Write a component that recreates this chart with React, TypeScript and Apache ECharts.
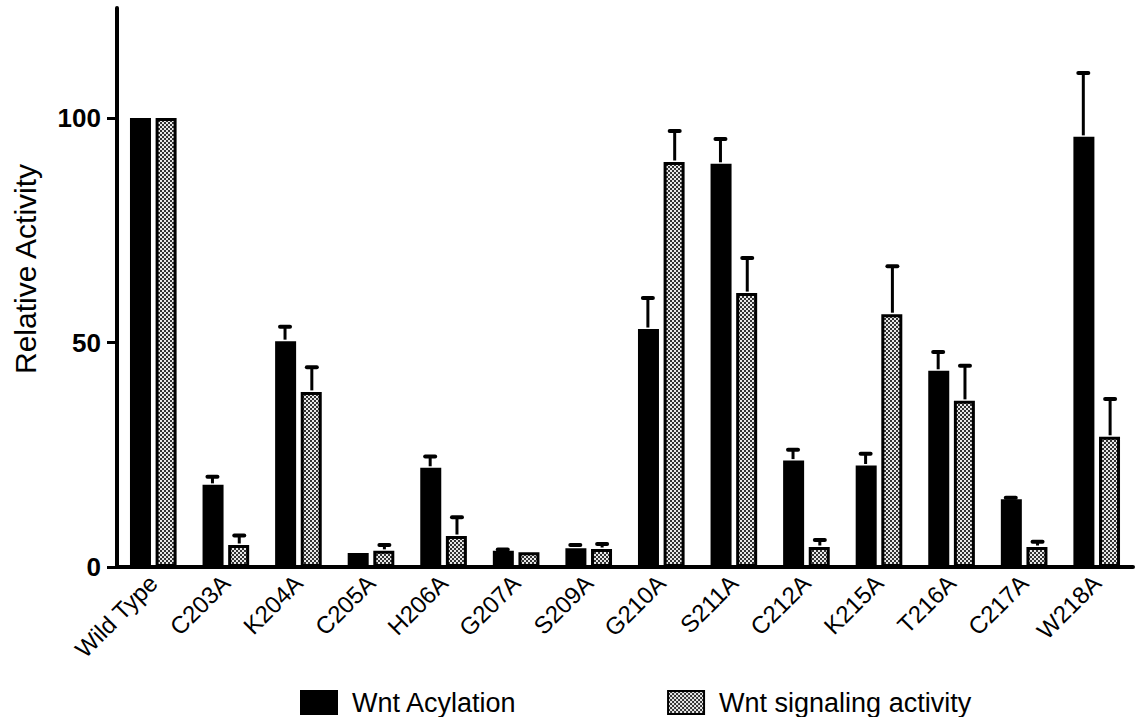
import React, { useEffect, useRef } from "react";
import * as echarts from "echarts";

const categories = ["Wild Type", "C203A", "K204A", "C205A", "H206A", "G207A", "S209A", "G210A", "S211A", "C212A", "K215A", "T216A", "C217A", "W218A"];
const acylation = [100, 18.3, 50.3, 3.1, 22.1, 3.6, 4.2, 53.0, 89.8, 23.7, 22.6, 43.7, 15.1, 95.8];
const acylationErr = [0, 1.8, 3.2, 0, 2.5, 0.3, 0.7, 6.9, 5.5, 2.4, 2.6, 4.2, 0.3, 14.2];
const signaling = [100, 4.9, 39.0, 3.6, 6.9, 3.3, 4.0, 90.2, 61.0, 4.45, 56.3, 37.0, 4.45, 29.0];
const signalingErr = [0, 2.1, 5.5, 1.3, 4.2, 0, 1.1, 6.9, 7.8, 1.55, 10.7, 7.8, 1.15, 8.4];
const seriesNames = ["Wnt Acylation", "Wnt signaling activity"];
const yTicks = [0, 50, 100];

const FONT = "'Liberation Sans', Arial, Helvetica, sans-serif";
const BAR_W = 21;
const BAR_OFFSET = 13.4;

function makePattern(): HTMLCanvasElement {
  const c = document.createElement("canvas");
  c.width = 4;
  c.height = 4;
  const ctx = c.getContext("2d")!;
  ctx.fillStyle = "#333333";
  ctx.fillRect(0, 0, 4, 4);
  ctx.fillStyle = "#e8e8e8";
  ctx.fillRect(0, 0, 2, 2);
  ctx.fillRect(2, 2, 2, 2);
  return c;
}

function errorSeries(name: string, values: number[], errs: number[], side: number) {
  return {
    type: "custom",
    name: name + " error",
    silent: true,
    z: 5,
    encode: { x: 0, y: [1, 2] },
    data: values.map((v, i) => [i, v, v + errs[i]]),
    renderItem: (params: any, api: any) => {
      const i = api.value(0);
      const lo = api.coord([i, api.value(1)]);
      const hi = api.coord([i, api.value(2)]);
      if (lo[1] - hi[1] < 0.5) return null;
      const x = lo[0] + side * BAR_OFFSET;
      const y0 = lo[1] - 1.5;
      return {
        type: "group",
        children: [
          { type: "line", shape: { x1: x, y1: y0, x2: x, y2: hi[1] }, style: { stroke: "#000", lineWidth: 3 } },
          { type: "line", shape: { x1: x - 5, y1: hi[1], x2: x + 5, y2: hi[1] }, style: { stroke: "#000", lineWidth: 4, lineCap: "round" } },
        ],
      };
    },
  };
}

export default function App() {
  const ref = useRef<HTMLDivElement>(null);
  useEffect(() => {
    if (!ref.current) return;
    const chart = echarts.init(ref.current, undefined, { renderer: "svg" });
    const pattern = makePattern();
    chart.setOption({
      animation: false,
      backgroundColor: "#fff",
      textStyle: { fontFamily: FONT },
      grid: { left: 117, right: 5, top: 8, bottom: 150, containLabel: false },
      legend: {
        data: seriesNames,
        left: 295,
        top: 684,
        icon: "rect",
        itemWidth: 36,
        itemHeight: 23,
        itemGap: 150,
        textStyle: { fontSize: 27, color: "#000", fontFamily: FONT, padding: [0, 0, 0, 10] },
        selectedMode: false,
      },
      xAxis: {
        type: "category",
        data: categories,
        axisLine: { lineStyle: { color: "#000", width: 4 } },
        axisTick: { alignWithLabel: true, length: 9, lineStyle: { color: "#000", width: 3 } },
        axisLabel: { rotate: 45, fontSize: 24, color: "#000", margin: 12, fontFamily: FONT },
      },
      yAxis: {
        type: "value",
        min: 0,
        max: 124.5,
        interval: 50,
        splitLine: { show: false },
        axisLine: { show: true, lineStyle: { color: "#000", width: 4 } },
        axisTick: { show: true, length: 10, customValues: yTicks, lineStyle: { color: "#000", width: 3 } },
        axisLabel: {
          fontSize: 26,
          fontWeight: "bold",
          color: "#000",
          margin: 16,
          fontFamily: FONT,
          customValues: yTicks,
        },
      },
      graphic: [
        {
          type: "text",
          x: 25,
          y: 269,
          rotation: Math.PI / 2,
          style: {
            text: "Relative Activity",
            fontSize: 30,
            fontFamily: FONT,
            fill: "#000",
            align: "center",
            verticalAlign: "middle",
          },
        },
      ],
      series: [
        {
          name: seriesNames[0],
          type: "bar",
          data: acylation,
          barWidth: BAR_W,
          barGap: "22%",
          itemStyle: { color: "#000", borderColor: "#000", borderWidth: 2 },
        },
        {
          name: seriesNames[1],
          type: "bar",
          data: signaling,
          barWidth: BAR_W,
          barGap: "22%",
          itemStyle: { color: { image: pattern, repeat: "repeat" }, borderColor: "#000", borderWidth: 3 },
        },
        errorSeries(seriesNames[0], acylation, acylationErr, -1),
        errorSeries(seriesNames[1], signaling, signalingErr, 1),
      ],
    });
    return () => chart.dispose();
  }, []);
  return <div ref={ref} style={{ position: "fixed", left: 0, top: 0, width: 1138, height: 717 }} />;
}
